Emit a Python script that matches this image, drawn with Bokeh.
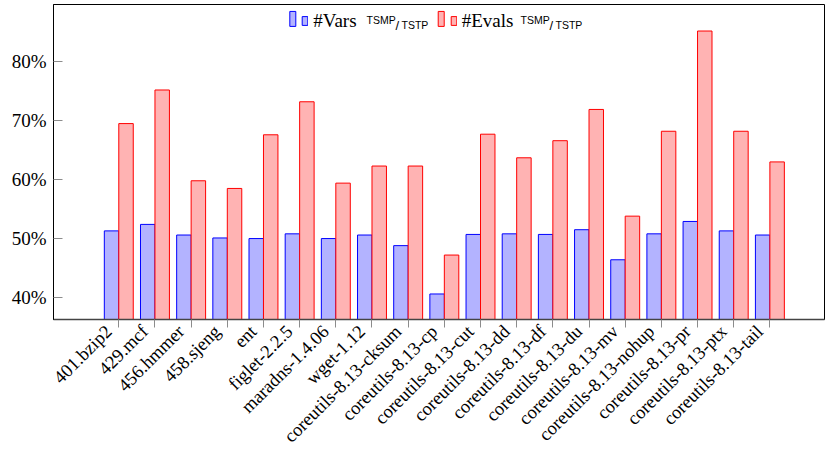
from bokeh.plotting import figure
from bokeh.models import (ColumnDataSource, FixedTicker, Range1d, Legend, LegendItem, Label,
                          BoxAnnotation, LinearAxis)
from bokeh.transform import dodge
from bokeh.embed import file_html
from bokeh.resources import INLINE
import math

programs = ["401.bzip2", "429.mcf", "456.hmmer", "458.sjeng", "ent", "figlet-2.2.5",
            "maradns-1.4.06", "wget-1.12", "coreutils-8.13-cksum", "coreutils-8.13-cp",
            "coreutils-8.13-cut", "coreutils-8.13-dd", "coreutils-8.13-df", "coreutils-8.13-du",
            "coreutils-8.13-mv", "coreutils-8.13-nohup", "coreutils-8.13-pr",
            "coreutils-8.13-ptx", "coreutils-8.13-tail"]
vars_pct = [51.3, 52.4, 50.6, 50.1, 50.0, 50.8, 50.0, 50.6, 48.8, 40.6,
            50.7, 50.8, 50.7, 51.5, 46.4, 50.8, 52.9, 51.3, 50.6]
evals_pct = [69.5, 75.2, 59.8, 58.5, 67.6, 73.2, 59.4, 62.3, 62.3, 47.2,
             67.7, 63.7, 66.6, 71.9, 53.8, 68.2, 85.2, 68.2, 63.0]
y_ticks = [40, 50, 60, 70, 80]
y_tick_labels = ["40%", "50%", "60%", "70%", "80%"]

SERIF = "Liberation Serif"
SANS = "Liberation Sans"
BLUE_FILL, BLUE_LINE = "#b3b3ff", "#0000ff"
RED_FILL, RED_LINE = "#ffb3b3", "#ff0000"

idx = list(range(len(programs)))
src = ColumnDataSource(dict(x=idx, vars=vars_pct, evals=evals_pct))

p = figure(width=825, height=458, output_backend="svg", toolbar_location=None,
           x_axis_type=None,
           x_range=Range1d(-1.805, 19.51), y_range=Range1d(36.27, 89.7),
           min_border_left=53, min_border_right=1, min_border_top=4, min_border_bottom=139)

p.xgrid.visible = False
p.ygrid.visible = False
p.outline_line_color = "black"
p.outline_line_width = 1
p.background_fill_color = "white"
p.border_fill_color = "white"

r_vars = p.vbar(x=dodge("x", -0.2, range=p.x_range), top="vars", bottom=30, width=0.4,
                source=src, fill_color=BLUE_FILL, line_color=BLUE_LINE, line_width=1)
r_evals = p.vbar(x=dodge("x", 0.2, range=p.x_range), top="evals", bottom=30, width=0.4,
                 source=src, fill_color=RED_FILL, line_color=RED_LINE, line_width=1)

# x axis: tick marks at the category centres (closest to the frame)
tick_axis = LinearAxis(ticker=FixedTicker(ticks=idx), major_tick_in=0, major_tick_out=8,
                       major_tick_line_color="#8c8c8c", minor_tick_line_color=None,
                       major_label_text_color=None, major_label_standoff=0,
                       axis_line_color="#444444", axis_line_width=1.5)
# x axis: rotated category names, anchored like pgfplots' "anchor=east"
LABEL_SHIFT = 0.276
label_pos = [i - LABEL_SHIFT for i in idx]
label_axis = LinearAxis(ticker=FixedTicker(ticks=label_pos),
                        major_label_overrides={pos: s for pos, s in zip(label_pos, programs)},
                        major_label_orientation=math.pi / 4,
                        major_label_text_font=SERIF, major_label_text_font_size="18.5px",
                        major_label_text_color="black", major_label_standoff=1,
                        major_tick_in=0, major_tick_out=0, major_tick_line_color=None,
                        minor_tick_line_color=None, axis_line_color=None)
p.add_layout(tick_axis, "below")
p.add_layout(label_axis, "below")

# y axis
ya = p.yaxis[0]
ya.ticker = FixedTicker(ticks=y_ticks)
ya.major_label_overrides = {t: s for t, s in zip(y_ticks, y_tick_labels)}
ya.major_label_text_font = SERIF
ya.major_label_text_font_size = "19px"
ya.major_label_text_color = "black"
ya.major_label_standoff = 7
ya.major_tick_in = 9
ya.major_tick_out = 0
ya.major_tick_line_color = "#8c8c8c"
ya.minor_tick_line_color = None
ya.axis_line_color = "black"

# helpers converting reference pixel positions (legend decoration only) to data units
def px_to_x(px):
    return (px - 118.3) / 36.17

def py_to_y(py):
    return 80 + (61.3 - py) / 5.9

def make_legend(renderer, label, loc):
    return Legend(items=[LegendItem(label=label, renderers=[renderer])],
                  location=loc, orientation="horizontal",
                  glyph_width=7, glyph_height=11, label_width=0, label_height=11,
                  label_standoff=5, spacing=0, padding=0, margin=0,
                  border_line_alpha=0, background_fill_alpha=0,
                  label_text_font=SERIF, label_text_font_size="19px",
                  label_text_color="black")

# legend groups: (first bar left, colours, renderer, entry label, superscript start)
groups = [(289.3, BLUE_FILL, BLUE_LINE, r_vars, "#Vars", 366),
          (437.7, RED_FILL, RED_LINE, r_evals, "#Evals", 520)]

for left, fc, lc, rend, lab, sup_x in groups:
    # first (taller) legend bar
    p.add_layout(BoxAnnotation(left=px_to_x(left), right=px_to_x(left + 6),
                               top=py_to_y(11), bottom=py_to_y(26),
                               fill_color=fc, fill_alpha=1, line_color=lc, line_width=1,
                               line_alpha=1))
    # second bar + text
    p.add_layout(make_legend(rend, lab, (left + 12 - 53, 287.5)))
    p.add_layout(Label(x=px_to_x(sup_x), y=py_to_y(19.8), text="TSMP",
                       text_font=SANS, text_font_size="10.5px", text_color="black",
                       text_baseline="alphabetic"))
    p.add_layout(Label(x=px_to_x(sup_x + 29), y=py_to_y(25.5), text="/",
                       text_font=SANS, text_font_size="13px", text_color="black",
                       text_baseline="alphabetic"))
    p.add_layout(Label(x=px_to_x(sup_x + 35), y=py_to_y(24.8), text="TSTP",
                       text_font=SANS, text_font_size="10.5px", text_color="black",
                       text_baseline="alphabetic"))

open("out.html", "w").write(file_html(p, INLINE))
